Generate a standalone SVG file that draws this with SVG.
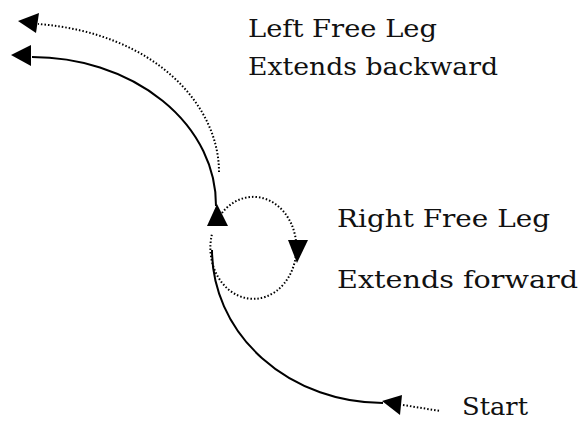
<svg xmlns="http://www.w3.org/2000/svg" width="584" height="421" viewBox="0 0 584 421">
<style>
.solid{fill:none;stroke:#000;stroke-width:2}
.dot{fill:none;stroke:#000;stroke-width:2;stroke-dasharray:1.5 2}
.head{fill:#000;stroke:none}
.lbl{font-family:"DejaVu Serif","Liberation Serif",serif;font-size:23.5px;fill:#111}
</style>
<rect width="584" height="421" fill="#fff"/>
<g id="connectors">
<path class="solid" d="M383,403 A171,153 0 0 1 212,250"/>
<path class="solid" d="M216,206 A184,148 0 0 0 32,57"/>
<path class="dot" d="M219,172 C219,105 155,33 38,24"/>
<path class="dot" d="M222,213 A43,51 0 1 1 212,234"/>
<path class="dot" d="M403,405 L440,411"/>
<polygon class="head" points="382,401 402,395 400,415"/>
<polygon class="head" points="217,204 207,226 228,226"/>
<polygon class="head" points="297,263 288,240 308,240"/>
<polygon class="head" points="11,55 31,45 31,66"/>
<polygon class="head" points="18,21 39,13 36,33"/>
</g>
<g id="label-left">
<text class="lbl" x="248" y="37" textLength="189" lengthAdjust="spacingAndGlyphs">Left Free Leg</text>
<text class="lbl" x="248" y="75" textLength="250" lengthAdjust="spacingAndGlyphs">Extends backward</text>
</g>
<g id="label-right">
<text class="lbl" x="337" y="227" textLength="213" lengthAdjust="spacingAndGlyphs">Right Free Leg</text>
<text class="lbl" x="337" y="288" textLength="241" lengthAdjust="spacingAndGlyphs">Extends forward</text>
</g>
<g id="label-start">
<text class="lbl" x="462" y="415" textLength="66" lengthAdjust="spacingAndGlyphs">Start</text>
</g>
</svg>
